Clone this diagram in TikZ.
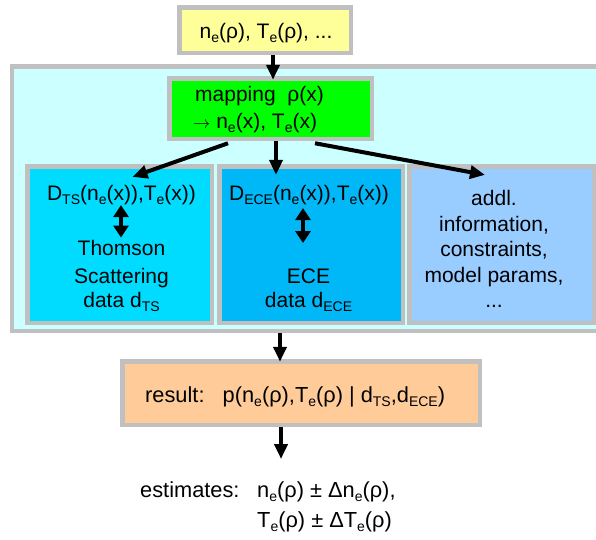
\documentclass[tikz,border=0pt]{standalone}
\usepackage{fontspec}
\setmainfont{Liberation Sans}
\usepackage{xcolor}
\usetikzlibrary{arrows.meta,positioning,calc}

\definecolor{framegray}{HTML}{C0C0C0}
\definecolor{paleyellow}{HTML}{FFFF99}
\definecolor{palecyan}{HTML}{CCFFFF}
\definecolor{mapgreen}{HTML}{00FF00}
\definecolor{tscyan}{HTML}{00DCFF}
\definecolor{ecesky}{HTML}{00B8F8}
\definecolor{addlblue}{HTML}{99CCFF}
\definecolor{resorange}{HTML}{FFCC99}

\newcommand{\lo}[1]{\raisebox{-4pt}{\fontsize{14}{14}\selectfont #1}}

\begin{document}
\begin{tikzpicture}[x=1pt,y=-1pt,
    font=\fontsize{21}{25}\selectfont,
    panel/.style={draw=framegray, line width=4.5pt, inner sep=0pt},
    txt/.style={inner sep=0pt, anchor=base},
    bigtxt/.style={txt, anchor=base west, font=\fontsize{21.8}{26}\selectfont},
    bigarr/.style={line width=4pt, -{Triangle[width=13pt,length=15pt]}},
    duoarr/.style={line width=4pt, {Triangle[width=15pt,length=12pt]}-{Triangle[width=15pt,length=12pt]}}]
    \useasboundingbox (0,0) rectangle (596,539);
    \clip (0,0) rectangle (596,539);
    % boxes
    \node[panel, fill=palecyan, minimum width=637.75pt, minimum height=264.5pt] (frame) at (331.1,198.5) {};
    \node[panel, fill=paleyellow, minimum width=171.5pt, minimum height=45.5pt] (top) at (265,30) {};
    \node[panel, fill=mapgreen, minimum width=202.5pt, minimum height=60.5pt] (map) at (270.5,108.5) {};
    \node[panel, fill=tscyan, minimum width=184.5pt, minimum height=156.5pt] (ts) at (119.5,244.5) {};
    \node[panel, fill=ecesky, minimum width=183.5pt, minimum height=156.5pt] (ece) at (311,244.5) {};
    \node[panel, fill=addlblue, minimum width=184.5pt, minimum height=156.5pt] (addl) at (501.5,244.5) {};
    \node[panel, fill=resorange, minimum width=357.5pt, minimum height=63.5pt] (res) at (301,393) {};
    % texts
    \node[txt] (toptxt) at (266,38) {n\lo{e}(ρ), T\lo{e}(ρ), ...};
    \node[txt, anchor=base west] (map1) at (195,101.5) {mapping\ \ ρ(x)};
    \node[txt, anchor=base west] (map2) at (193,128) {{\fontsize{18}{18}\selectfont$\rightarrow$}\ n\lo{e}(x), T\lo{e}(x)};
    \node[txt] (dts) at (121.5,200.5) {D\lo{TS}(n\lo{e}(x)),T\lo{e}(x))};
    \node[txt] (thom) at (121.5,255) {Thomson};
    \node[txt] (scat) at (121.5,283) {Scattering};
    \node[txt] (datats) at (121.5,307) {data d\lo{TS}};
    \node[txt] (dece) at (309,200.5) {D\lo{ECE}(n\lo{e}(x)),T\lo{e}(x))};
    \node[txt] (ecelbl) at (308.5,283) {ECE};
    \node[txt] (dataece) at (308.5,307) {data d\lo{ECE}};
    \foreach \ln/\yy [count=\i] in {addl./205, information{,}/231, constraints{,}/256.5, model params{,}/282, .{}.{}./307}
        \node[txt] (addl\i) at (494,\yy) {\ln};
    \node[bigtxt] (reslbl) at (145,402) {result:\ \ \ p(n\lo{e}(ρ),T\lo{e}(ρ) | d\lo{TS},d\lo{ECE})};
    \node[bigtxt] (estlbl) at (140,497) {estimates:};
    \node[bigtxt] (est1) at (257,497) {n\lo{e}(ρ) ± Δn\lo{e}(ρ),};
    \node[bigtxt] (est2) at (257,527) {T\lo{e}(ρ) ± ΔT\lo{e}(ρ)};
    % arrows
    \coordinate (eceend) at (303,243);
    \coordinate (estend) at (281,459);
    \draw[bigarr] ([xshift=8pt]top.south) -- ([xshift=2.5pt,yshift=-3.75pt]map.north);
    \draw[bigarr] ([xshift=-42.5pt,yshift=-2.25pt]map.south) -- ([xshift=11pt,yshift=8.2pt]dts.north);
    \draw[bigarr] ([xshift=5.5pt]map.south) -- ([xshift=-33pt,yshift=10.2pt]dece.north);
    \draw[bigarr] ([xshift=44.5pt,yshift=-2.25pt]map.south) -- ([xshift=-9pt,yshift=14.7pt]addl1.north);
    \draw[duoarr] ([xshift=-0.5pt]dts.south) -- ([xshift=-0.5pt,yshift=2pt]thom.north);
    \draw[duoarr] ([yshift=-3pt]dece.south -| eceend) -- (eceend);
    \draw[bigarr] ([xshift=-51.1pt]frame.south) -- ([xshift=-21pt,yshift=-2.75pt]res.north);
    \draw[bigarr] (res.south -| estend) -- (estend);
\end{tikzpicture}
\end{document}
